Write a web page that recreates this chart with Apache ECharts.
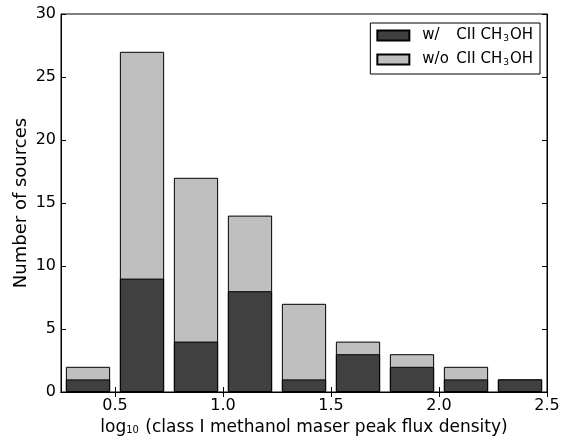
<!DOCTYPE html>
<html>
<head>
<meta charset="utf-8">
<script src="https://cdn.jsdelivr.net/npm/echarts@6/dist/echarts.min.js"></script>
<style>html,body{margin:0;padding:0;background:#fff}#c{width:568px;height:437px}</style>
</head>
<body>
<div id="c"></div>
<script>
// bin centres of log10 (class I methanol maser peak flux density)
const binCenters = [0.375, 0.625, 0.875, 1.125, 1.375, 1.625, 1.875, 2.125, 2.375];
const withCII = [1, 9, 4, 8, 1, 3, 2, 1, 1];
const withoutCII = [1, 18, 13, 6, 6, 1, 1, 1, 0];
const xTicks = [0.5, 1.0, 1.5, 2.0, 2.5];
const seriesNames = ['w/', 'w/o'];

// stacked top of the light bars = both groups together
const totals = withCII.map((v, i) => v + withoutCII[i]);

const font = 'DejaVu Sans';
const chart = echarts.init(document.getElementById('c'), null, {renderer: 'canvas'});

const subStyle = {fontFamily: font, fontSize: 10, color: '#000', verticalAlign: 'bottom', padding: [0, 1, 0, 0]};

const option = {
  animation: false,
  backgroundColor: '#fff',
  textStyle: {fontFamily: font},
  grid: {left: 61, right: 21, top: 14, bottom: 45, show: true, borderColor: '#000', borderWidth: 1,
    backgroundColor: 'transparent', containLabel: false, outerBoundsMode: 'none'},
  legend: {
    orient: 'vertical', right: 28, top: 23,
    data: seriesNames, icon: 'rect',
    padding: [5, 7, 7, 6], itemGap: 9, itemWidth: 32, itemHeight: 10,
    borderColor: '#000', borderWidth: 1, borderRadius: 0,
    formatter: function (n) {
      return n === 'w/' ? '{g|}{p|w/}{t|CII CH}{s|3}{t|OH}' : '{g|}{p|w/o}{t|CII CH}{s|3}{t|OH}';
    },
    textStyle: {
      fontFamily: font, fontSize: 15, color: '#000',
      rich: {
        g: {width: 8},
        p: {fontFamily: font, fontSize: 15, color: '#000', width: 34},
        t: {fontFamily: font, fontSize: 15, color: '#000'},
        s: {fontFamily: font, fontSize: 9, color: '#000', verticalAlign: 'bottom', padding: [0, 1, 0, 1]}
      }
    }
  },
  xAxis: [{
    type: 'value', min: 0.25, max: 2.5, position: 'bottom',
    name: 'log{s|10} (class I methanol maser peak flux density)',
    nameLocation: 'middle', nameGap: 24,
    nameTextStyle: {fontFamily: font, fontSize: 17, color: '#000',
      rich: {s: subStyle}},
    axisLine: {show: true, lineStyle: {color: '#000', width: 1}},
    axisTick: {show: true, inside: true, length: 5, customValues: xTicks, lineStyle: {color: '#000'}},
    axisLabel: {show: true, customValues: xTicks, fontFamily: font, fontSize: 16, color: '#000', margin: 6,
      formatter: v => v.toFixed(1)},
    splitLine: {show: false}
  }, {
    type: 'value', min: 0.25, max: 2.5, position: 'top',
    axisLine: {show: true, lineStyle: {color: '#000', width: 1}},
    axisTick: {show: true, inside: true, length: 5, customValues: xTicks, lineStyle: {color: '#000'}},
    axisLabel: {show: false},
    splitLine: {show: false}
  }],
  yAxis: [{
    type: 'value', min: 0, max: 30, interval: 5, position: 'left',
    name: 'Number of sources', nameLocation: 'middle', nameGap: 31, nameMoveOverlap: false,
    nameTextStyle: {fontFamily: font, fontSize: 18, color: '#000'},
    axisLine: {show: true, lineStyle: {color: '#000', width: 1}},
    axisTick: {show: true, inside: true, length: 5, lineStyle: {color: '#000'}},
    axisLabel: {fontFamily: font, fontSize: 16, color: '#000', margin: 5},
    splitLine: {show: false}
  }, {
    type: 'value', min: 0, max: 30, interval: 5, position: 'right',
    axisLine: {show: true, lineStyle: {color: '#000', width: 1}},
    axisTick: {show: true, inside: true, length: 5, lineStyle: {color: '#000'}},
    axisLabel: {show: false},
    splitLine: {show: false}
  }],
  series: [{
    name: seriesNames[1], type: 'bar', barWidth: '82%', barGap: '-100%',
    xAxisIndex: 0, yAxisIndex: 0, z: 2,
    itemStyle: {color: '#bfbfbf', borderColor: '#000', borderWidth: 1},
    data: binCenters.map((x, i) => [x, totals[i]])
  }, {
    name: seriesNames[0], type: 'bar', barWidth: '82%', barGap: '-100%',
    xAxisIndex: 0, yAxisIndex: 0, z: 3,
    itemStyle: {color: '#404040', borderColor: '#000', borderWidth: 1},
    data: binCenters.map((x, i) => [x, withCII[i]])
  }]
};
chart.setOption(option);
</script>
</body>
</html>
